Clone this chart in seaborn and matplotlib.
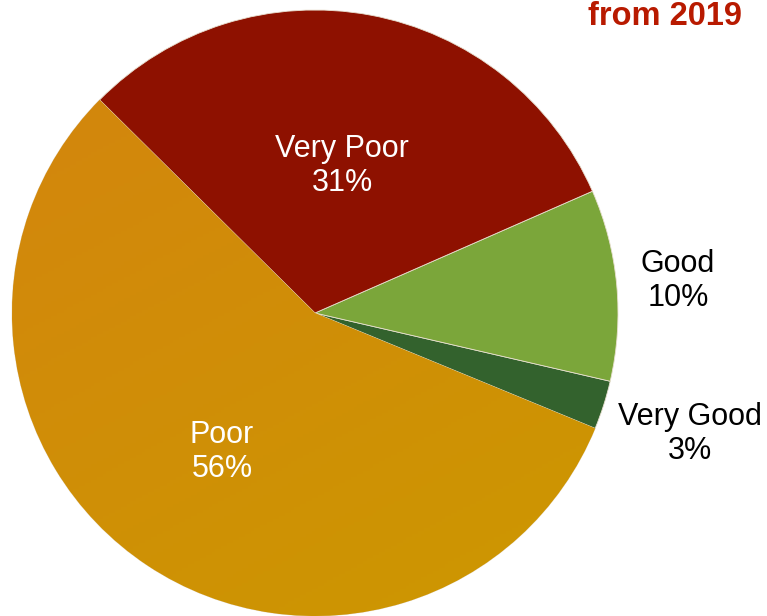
import matplotlib

matplotlib.use("Agg")
import matplotlib.pyplot as plt
import numpy as np
import seaborn as sns
from matplotlib.colors import LinearSegmentedColormap

# dane
kategorie = ["Poor", "Very Good", "Good", "Very Poor"]
udzialy = [56.2, 2.6, 10.2, 31.0]
etykiety_proc = ["56%", "3%", "10%", "31%"]
kolory = ["#CF8E08", "#33622D", "#7BA63A", "#8E1100"]
tytul = "from 2019"

sns.set_theme(style="white")
plt.rcParams["font.family"] = ["Liberation Sans", "DejaVu Sans"]

W, H = 767, 616
fig = plt.figure(figsize=(W / 100, H / 100), dpi=100)
ax = fig.add_axes([0, 0, 1, 1])

# srodek i promien kola w pikselach
cx, cy, r = 315, H - 313, 303

wedges, _ = ax.pie(
    udzialy,
    colors=kolory,
    startangle=135.3,
    counterclock=True,
    center=(cx, cy),
    radius=r,
    wedgeprops=dict(edgecolor="#E8E0D0", linewidth=0.6),
)

# gradient na wycinku "Poor" (pomaranczowy u gory, zolty na dole)
poor = wedges[0]
grad = LinearSegmentedColormap.from_list("poor", ["#D4840F", "#CC9800"])
gx, gy = np.meshgrid(np.linspace(0, 1, 200), np.linspace(0, 1, 200))
ax.imshow(
    gx * 0.35 + gy * 0.65,
    cmap=grad,
    extent=(cx - r, cx + r, cy - r, cy + r),
    origin="upper",
    clip_path=poor,
    zorder=poor.get_zorder() + 0.1,
    aspect="auto",
)

ax.set_xlim(0, W)
ax.set_ylim(0, H)
ax.set_aspect("equal")
ax.axis("off")

# etykiety
pozycje = {
    "Poor": (222, 452, "white"),
    "Very Good": (690, 434, "black"),
    "Good": (678, 281, "black"),
    "Very Poor": (342, 166, "white"),
}
for kat, proc in zip(kategorie, etykiety_proc):
    x, y, c = pozycje[kat]
    ax.text(x, H - y, f"{kat}\n{proc}", ha="center", va="center",
            fontsize=22, color=c, linespacing=1.2, zorder=5)

ax.text(742, H - 25, tytul, ha="right", va="baseline", fontsize=23.5,
        fontweight="bold", color="#B81A00")

fig.savefig("out.png", dpi=100)
